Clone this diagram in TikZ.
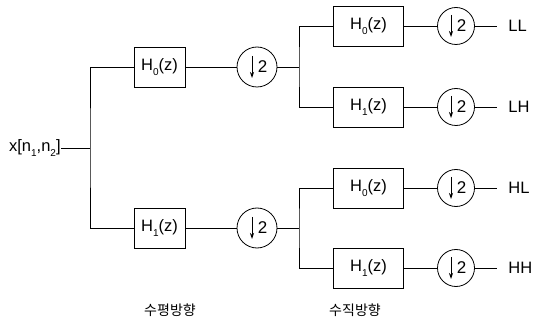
\documentclass[tikz,border=0pt]{standalone}
\usepackage{fontspec}
\setmainfont{Liberation Sans}
\newfontfamily\krfont{Noto Sans CJK KR}
\usetikzlibrary{arrows.meta}
\newcommand\sub[1]{\raisebox{-.55ex}{\fontsize{10}{10}\selectfont#1}}
\tikzset{
  filt/.style={draw, rectangle, minimum height=40pt, inner sep=0pt},
  dsamp/.style={draw, circle, minimum size=#1, inner sep=0pt,
    path picture={
      \draw[-{Stealth[length=6pt,width=4pt]}] ([xshift=-5pt,yshift=11pt]path picture bounding box.center) -- ++(0,-22pt);
      \node[font=\fontsize{17}{17}\selectfont] at ([xshift=5.5pt]path picture bounding box.center) {2};
    }},
  dsamp/.default=38pt,
  lbl/.style={font=\fontsize{16.5}{16.5}\selectfont, inner sep=0pt},
}

\begin{document}
\begin{tikzpicture}[x=1pt,y=-1pt,>=latex,line width=.8pt]
\useasboundingbox (0,0) rectangle (536,326);
\node[lbl,anchor=east] (in) at (61,148) {x[n\sub1,n\sub2]};
\coordinate (j0) at (90,148);
\node[filt,minimum width=51pt,lbl] (h0) at (159.5,67) {H\sub0(z)};
\node[filt,minimum width=51pt,lbl] (h1) at (159.5,228) {H\sub1(z)};
\node[dsamp=40pt] (d0) at (257,67) {};
\node[dsamp=40pt] (d1) at (257,228) {};
\coordinate (j1) at (299,67);
\coordinate (j2) at (299,228);
\draw (in.east) -- (j0);
\draw (h0.west) -| (j0) |- (h1.west);
\draw (h0) -- (d0) -- (j1);
\draw (h1) -- (d1) -- (j2);
\foreach \n/\y/\k/\o in {a/26/0/LL,b/107/1/LH,c/188/0/HL,d/268/1/HH}{
  \node[filt,minimum width=70pt,lbl] (h\n) at (368.5,\y) {H\sub\k(z)};
  \node[dsamp=37pt] (d\n) at (456,\y) {};
  \coordinate (o\n) at (497,\y);
  \node[lbl,anchor=west] (l\n) at (508,\y) {\o};
  \draw (h\n) -- (d\n) -- (o\n);
}
\draw (ha.west) -| (j1) |- (hb.west);
\draw (hc.west) -| (j2) |- (hd.west);
\node[font=\krfont\fontsize{14}{14}\selectfont] (kh) at (170,310) {수평방향};
\node[font=\krfont\fontsize{14}{14}\selectfont] (kv) at (355,310) {수직방향};
\end{tikzpicture}
\end{document}
